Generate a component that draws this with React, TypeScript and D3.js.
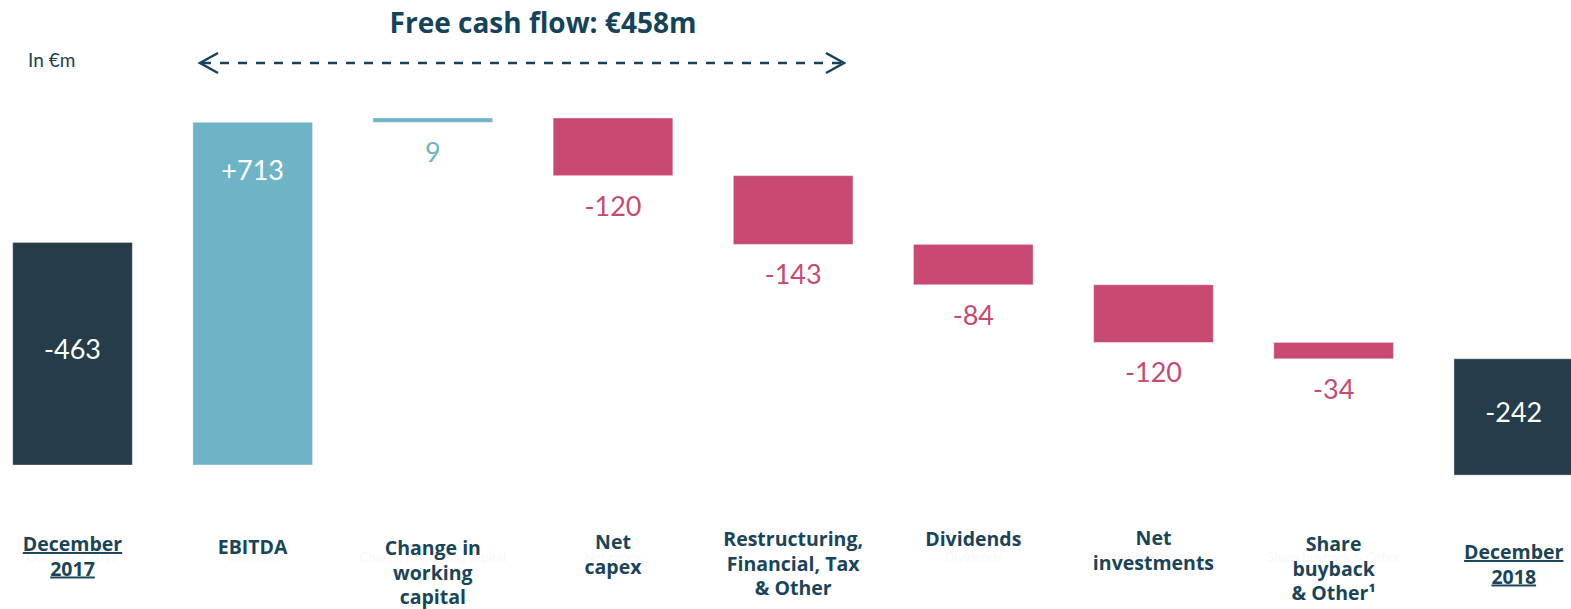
import React from 'react';
import * as d3 from 'd3';

// In €m
const categories = [
  ['December', '2017'],
  ['EBITDA'],
  ['Change in', 'working', 'capital'],
  ['Net', 'capex'],
  ['Restructuring,', 'Financial, Tax', '& Other'],
  ['Dividends'],
  ['Net', 'investments'],
  ['Share', 'buyback', '& Other¹'],
  ['December', '2018'],
];
const ghostLabels = [
  'December 2017', 'EBITDA', 'Change in working capital', 'Net capex', '',
  'Dividends', 'Net investments', 'Share buyback & Other', '',
];
const openingValue = -463;
const deltas = [713, 9, -120, -143, -84, -120, -34];
const closingValue = -242;
const valueLabels = ['-463', '+713', '9', '-120', '-143', '-84', '-120', '-34', '-242'];
const title = 'Free cash flow: €458m';
const unitLabel = 'In €m';

const W = 1571, H = 609;
const NAVY = '#253c4a', TEAL = '#6fb4c6', PINK = '#c84a72', TEXT = '#1a4559';
const FONT = 'Lato, "Open Sans", sans-serif';
const LABEL_FONT = '"Open Sans", Lato, sans-serif';
// first baseline of each category label
const labelTop = [551, 554, 555, 549, 546, 546, 545, 551, 559];

export default function App() {
  const segs: { from: number; to: number; kind: string }[] = [];
  segs.push({ from: 0, to: -openingValue, kind: 'total' });
  let run = 0;
  deltas.forEach(d => {
    segs.push({ from: run, to: run + d, kind: d >= 0 ? 'up' : 'down' });
    run += d;
  });
  segs.push({ from: run, to: run + closingValue, kind: 'total' });

  const x = d3.scaleBand<number>()
    .domain(d3.range(segs.length))
    .range([12.7, 1573.6])
    .paddingInner(0.336)
    .paddingOuter(0);
  const y = d3.scaleLinear().domain([0, 713]).range([465, 122.3]);

  return (
    <svg width={W} height={H} style={{ position: 'absolute', left: 0, top: 0 }} fontFamily={FONT}>
      <rect width={W} height={H} fill="#fff" />
      <text x={543} y={33} textAnchor="middle" fontWeight={700} fontSize={28} fill="#15435a"
        fontFamily={LABEL_FONT}>{title}</text>
      <text x={28} y={67} fontSize={19} fill={TEXT}>{unitLabel}</text>

      <line x1={202} x2={842} y1={63} y2={63} stroke="#17435a" strokeWidth={2.5} strokeDasharray="9 9" />
      <polyline points="218,53 200,63 218,73" fill="none" stroke="#17435a" strokeWidth={2.5} />
      <polyline points="826,53 844,63 826,73" fill="none" stroke="#17435a" strokeWidth={2.5} />

      {segs.map((s, i) => {
        const top = Math.min(y(s.from), y(s.to));
        const bot = Math.max(y(s.from), y(s.to));
        const fill = s.kind === 'total' ? NAVY : s.kind === 'up' ? TEAL : PINK;
        const cx = x(i)! + x.bandwidth() / 2;
        let ly: number, lc: string;
        if (s.kind === 'total') { ly = (top + bot) / 2 + 5; lc = '#fff'; }
        else if (s.kind === 'up' && bot - top > 60) { ly = top + 58; lc = '#fff'; }
        else { ly = bot + 40; lc = fill; }
        return (
          <g key={i}>
            <rect x={x(i)} y={top} width={x.bandwidth()} height={bot - top} fill={fill}
              stroke="#ffffff" strokeOpacity={0.35} strokeWidth={1} />
            <text x={cx} y={ly} textAnchor="middle" fontSize={27} fill={lc}>{valueLabels[i]}</text>
          </g>
        );
      })}

      {categories.map((lines, i) => {
        const cx = x(i)! + x.bandwidth() / 2;
        const total = i === 0 || i === categories.length - 1;
        return (
          <g key={i}>
            {ghostLabels[i] && (
              <text x={cx} y={562} textAnchor="middle" fontSize={13} fill="#f8f8f8">{ghostLabels[i]}</text>
            )}
            {lines.map((l, j) => (
              <text key={j} x={cx} y={labelTop[i] + j * 24.5} textAnchor="middle" fontSize={19.5}
                fontWeight={700} fill={TEXT} fontFamily={LABEL_FONT}
                textDecoration={total ? 'underline' : undefined}>{l}</text>
            ))}
          </g>
        );
      })}
    </svg>
  );
}
